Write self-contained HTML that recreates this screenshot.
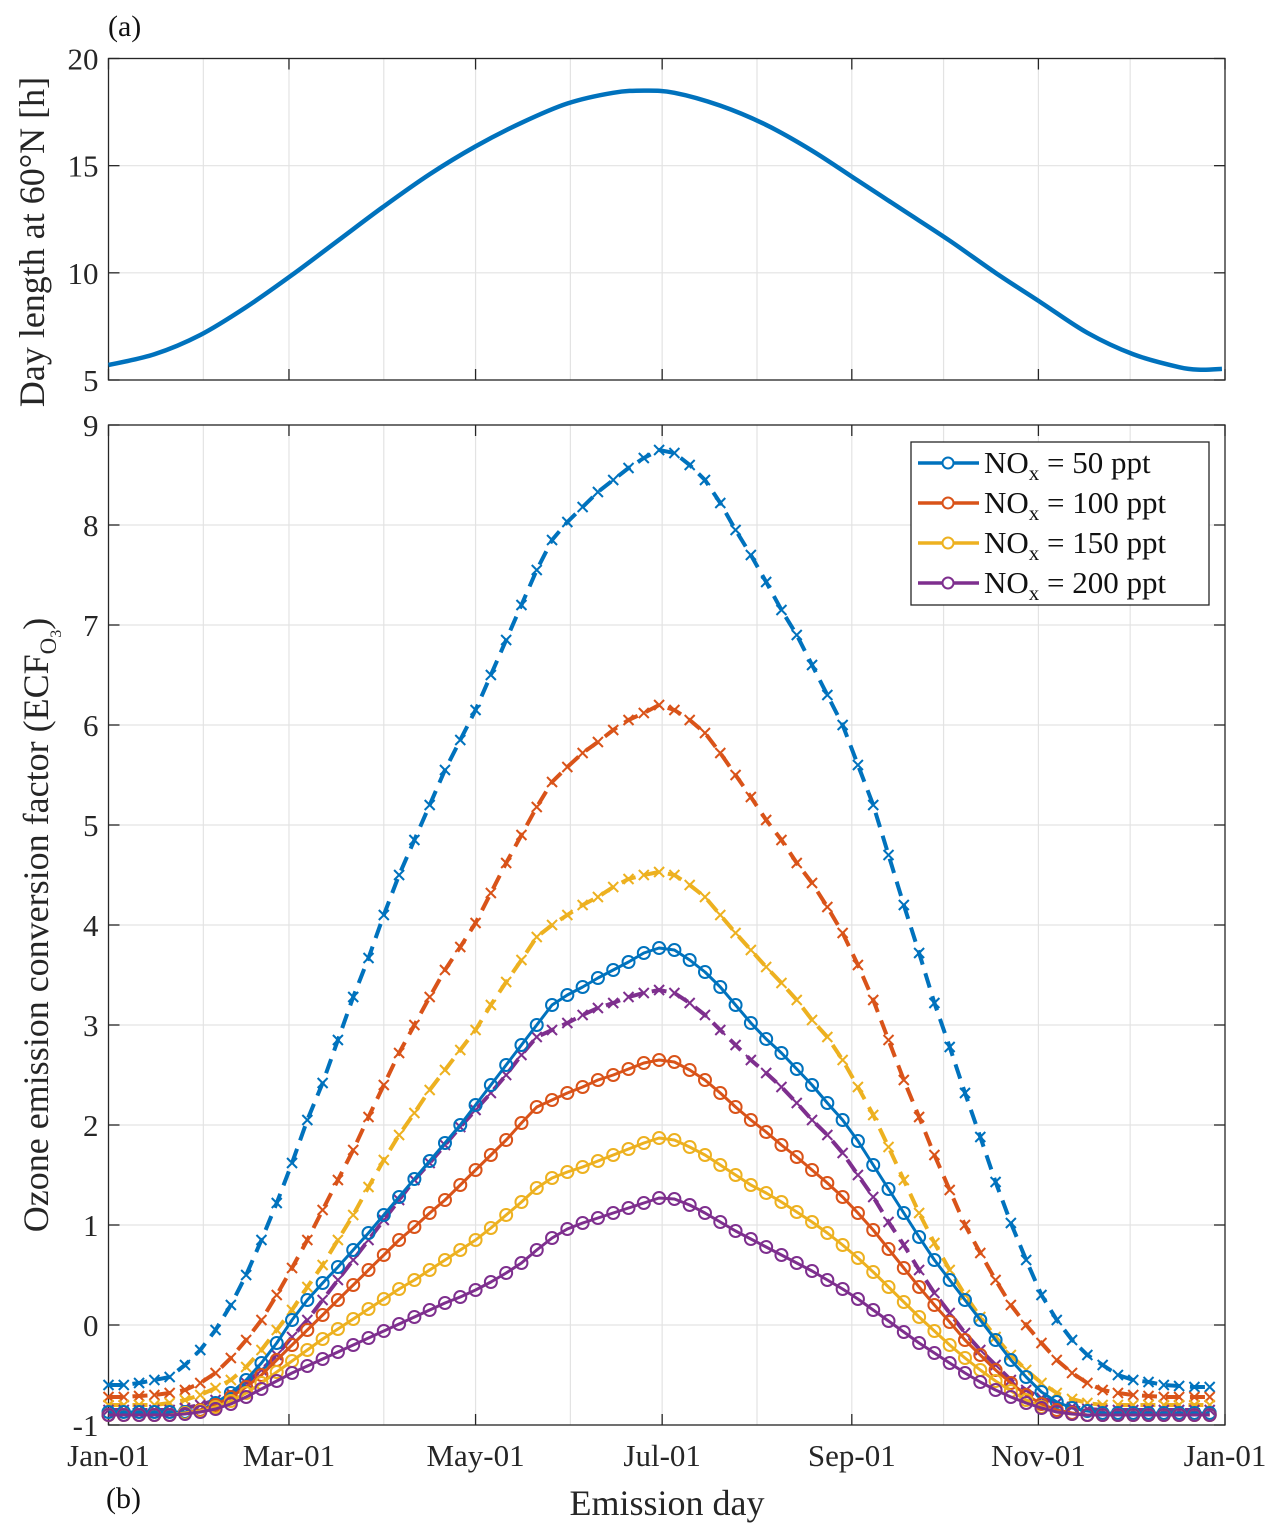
<!DOCTYPE html>
<html><head><meta charset="utf-8">
<style>
html,body{margin:0;padding:0;background:#fff;}
body{position:relative;width:1286px;height:1535px;}
svg{display:block;font-family:"Liberation Serif",serif;}
</style></head>
<body>
<svg id="chart" width="1286" height="1535" viewBox="0 0 1286 1535" xmlns="http://www.w3.org/2000/svg"></svg>
<script>
// ---- data ----
const dayLenDays = [0,15,30,45,60,75,90,105,120,135,150,165,175,185,200,215,230,245,260,275,290,305,320,335,350,357,364];
const dayLenHours = [5.7,6.2,7.1,8.4,9.9,11.5,13.1,14.6,15.9,17.0,17.9,18.4,18.5,18.4,17.8,16.9,15.7,14.3,12.9,11.5,10.0,8.6,7.2,6.2,5.6,5.48,5.52];
const monthTickLabels = ["Jan-01","Mar-01","May-01","Jul-01","Sep-01","Nov-01","Jan-01"];
const monthTickDays = [0,59,120,181,243,304,365];
const monthGridDays = [31,59,90,120,151,181,212,243,273,304,334];
const topYTicks = [5,10,15,20];
const botYTicks = [-1,0,1,2,3,4,5,6,7,8,9];
const ecfStepDays = 5;
const ecf50dash = [-0.6,-0.6,-0.58,-0.55,-0.52,-0.4,-0.25,-0.05,0.2,0.5,0.85,1.22,1.62,2.05,2.42,2.85,3.28,3.67,4.1,4.5,4.85,5.2,5.55,5.85,6.15,6.5,6.85,7.2,7.55,7.85,8.03,8.18,8.33,8.45,8.57,8.67,8.75,8.72,8.6,8.45,8.22,7.95,7.7,7.43,7.15,6.9,6.6,6.3,6.0,5.6,5.2,4.7,4.2,3.72,3.22,2.78,2.32,1.88,1.43,1.02,0.65,0.3,0.05,-0.15,-0.3,-0.4,-0.5,-0.55,-0.57,-0.6,-0.61,-0.62,-0.62];
const ecf100dash = [-0.72,-0.72,-0.71,-0.7,-0.68,-0.65,-0.58,-0.48,-0.33,-0.15,0.05,0.3,0.57,0.85,1.15,1.45,1.75,2.08,2.4,2.72,3.0,3.28,3.55,3.78,4.02,4.32,4.62,4.9,5.18,5.43,5.58,5.72,5.83,5.95,6.05,6.12,6.2,6.15,6.05,5.92,5.72,5.5,5.28,5.05,4.85,4.62,4.42,4.18,3.92,3.6,3.25,2.85,2.45,2.08,1.7,1.35,1.0,0.72,0.45,0.2,0.0,-0.18,-0.35,-0.48,-0.58,-0.65,-0.68,-0.7,-0.71,-0.72,-0.72,-0.72,-0.72];
const ecf150dash = [-0.8,-0.8,-0.8,-0.8,-0.78,-0.75,-0.7,-0.63,-0.55,-0.42,-0.25,-0.05,0.15,0.38,0.6,0.85,1.1,1.38,1.65,1.9,2.12,2.35,2.55,2.75,2.95,3.2,3.43,3.65,3.88,4.0,4.1,4.2,4.28,4.38,4.46,4.5,4.53,4.5,4.4,4.28,4.1,3.92,3.75,3.58,3.42,3.25,3.05,2.88,2.65,2.38,2.1,1.78,1.45,1.12,0.82,0.55,0.3,0.08,-0.12,-0.3,-0.45,-0.58,-0.68,-0.74,-0.78,-0.8,-0.8,-0.8,-0.8,-0.8,-0.8,-0.8,-0.8];
const ecf200dash = [-0.85,-0.85,-0.85,-0.85,-0.85,-0.83,-0.8,-0.75,-0.68,-0.58,-0.45,-0.3,-0.12,0.05,0.25,0.45,0.65,0.85,1.05,1.25,1.45,1.62,1.8,1.98,2.15,2.32,2.5,2.7,2.88,2.95,3.02,3.1,3.17,3.22,3.28,3.32,3.35,3.32,3.22,3.1,2.95,2.8,2.65,2.52,2.38,2.22,2.05,1.9,1.72,1.5,1.28,1.03,0.8,0.55,0.32,0.12,-0.08,-0.25,-0.4,-0.55,-0.65,-0.73,-0.78,-0.82,-0.84,-0.85,-0.85,-0.85,-0.85,-0.85,-0.85,-0.85,-0.85];
const ecf50 = [-0.87,-0.87,-0.87,-0.87,-0.87,-0.87,-0.85,-0.78,-0.68,-0.55,-0.38,-0.18,0.05,0.25,0.42,0.58,0.75,0.92,1.1,1.28,1.46,1.64,1.82,2.0,2.2,2.4,2.6,2.8,3.0,3.2,3.3,3.38,3.47,3.55,3.63,3.72,3.77,3.75,3.65,3.53,3.38,3.2,3.02,2.86,2.72,2.56,2.4,2.22,2.05,1.84,1.6,1.36,1.12,0.88,0.65,0.45,0.25,0.05,-0.15,-0.35,-0.52,-0.67,-0.77,-0.83,-0.86,-0.88,-0.88,-0.88,-0.88,-0.88,-0.88,-0.88,-0.88];
const ecf100 = [-0.9,-0.9,-0.9,-0.9,-0.9,-0.88,-0.85,-0.8,-0.72,-0.62,-0.5,-0.35,-0.2,-0.05,0.1,0.25,0.4,0.55,0.7,0.85,0.98,1.12,1.25,1.4,1.55,1.7,1.85,2.02,2.18,2.25,2.32,2.38,2.45,2.5,2.56,2.62,2.65,2.63,2.55,2.45,2.32,2.18,2.05,1.93,1.8,1.68,1.55,1.42,1.28,1.12,0.95,0.76,0.57,0.38,0.2,0.03,-0.15,-0.3,-0.45,-0.58,-0.7,-0.79,-0.85,-0.88,-0.9,-0.9,-0.9,-0.9,-0.9,-0.9,-0.9,-0.9,-0.9];
const ecf150 = [-0.9,-0.9,-0.9,-0.9,-0.9,-0.88,-0.86,-0.82,-0.76,-0.68,-0.58,-0.47,-0.36,-0.25,-0.14,-0.04,0.06,0.16,0.26,0.36,0.45,0.55,0.65,0.75,0.85,0.97,1.1,1.23,1.37,1.47,1.53,1.58,1.64,1.7,1.76,1.82,1.87,1.85,1.78,1.7,1.6,1.5,1.4,1.32,1.23,1.13,1.03,0.92,0.8,0.67,0.53,0.38,0.23,0.08,-0.06,-0.2,-0.33,-0.45,-0.56,-0.66,-0.75,-0.82,-0.87,-0.89,-0.9,-0.9,-0.9,-0.9,-0.9,-0.9,-0.9,-0.9,-0.9];
const ecf200 = [-0.9,-0.9,-0.9,-0.9,-0.9,-0.89,-0.87,-0.84,-0.79,-0.72,-0.64,-0.56,-0.48,-0.41,-0.34,-0.27,-0.2,-0.13,-0.06,0.01,0.08,0.15,0.22,0.28,0.35,0.43,0.52,0.62,0.75,0.87,0.96,1.02,1.07,1.12,1.17,1.22,1.27,1.26,1.2,1.12,1.03,0.94,0.86,0.78,0.7,0.62,0.54,0.45,0.36,0.26,0.15,0.04,-0.07,-0.18,-0.28,-0.38,-0.48,-0.57,-0.65,-0.72,-0.78,-0.83,-0.87,-0.89,-0.9,-0.9,-0.9,-0.9,-0.9,-0.9,-0.9,-0.9,-0.9];
const legendLabels = ["50","100","150","200"];

// ---- layout ----
const NS="http://www.w3.org/2000/svg";
const svg=document.getElementById('chart');
const X0=108.5,X1=1225,T0=58.5,T1=380,B0=425,B1=1425;
const xS=d=>X0+d/365*(X1-X0);
const yT=v=>T1-(v-5)/15*(T1-T0);
const yB=v=>B1-(v+1)/10*(B1-B0);
const C=["#0072BD","#D95319","#EDB120","#7E2F8E"];
function el(tag,attrs,parent){const e=document.createElementNS(NS,tag);for(const k in attrs)e.setAttribute(k,attrs[k]);(parent||svg).appendChild(e);return e;}

function axes(yTop,yBot,ticks,yf,name){
  const g=el('g',{});
  
  
  monthGridDays.forEach(d=>el('line',{x1:xS(d),x2:xS(d),y1:yTop,y2:yBot,stroke:'#e3e3e3','stroke-width':1.2},g));
  ticks.forEach(v=>el('line',{x1:X0,x2:X1,y1:yf(v),y2:yf(v),stroke:'#e3e3e3','stroke-width':1.2},g));
  el('rect',{x:X0,y:yTop,width:X1-X0,height:yBot-yTop,fill:'none',stroke:'#262626','stroke-width':1.3},g);
  monthTickDays.forEach(d=>{el('line',{x1:xS(d),x2:xS(d),y1:yBot,y2:yBot-11,stroke:'#262626','stroke-width':1.3},g);el('line',{x1:xS(d),x2:xS(d),y1:yTop,y2:yTop+11,stroke:'#262626','stroke-width':1.3},g);});
  ticks.forEach(v=>{el('line',{x1:X0,x2:X0+11,y1:yf(v),y2:yf(v),stroke:'#262626','stroke-width':1.3},g);el('line',{x1:X1,x2:X1-11,y1:yf(v),y2:yf(v),stroke:'#262626','stroke-width':1.3},g);
    const t=el('text',{x:X0-10,y:yf(v)+11,'text-anchor':'end','font-size':31,fill:'#262626'},g);t.textContent=String(v);
    
    });
  return g;
}
axes(T0,T1,topYTicks,yT,'top-axes');
axes(B0,B1,botYTicks,yB,'bottom-axes');
monthTickDays.forEach((d,i)=>{const t=el('text',{x:xS(d),y:1466,'text-anchor':'middle','font-size':31,fill:'#262626'});t.textContent=monthTickLabels[i];
  
  });

// top line
const topPts=dayLenDays.map((d,i)=>[xS(d),yT(dayLenHours[i])]);
let dtop='M'+topPts[0].join(',');
for(let i=1;i<topPts.length;i++){const p0=topPts[Math.max(i-2,0)],p1=topPts[i-1],p2=topPts[i],p3=topPts[Math.min(i+1,topPts.length-1)];
  dtop+=` C${p1[0]+(p2[0]-p0[0])/6},${p1[1]+(p2[1]-p0[1])/6} ${p2[0]-(p3[0]-p1[0])/6},${p2[1]-(p3[1]-p1[1])/6} ${p2[0]},${p2[1]}`;}
const tl=el('path',{d:dtop,fill:'none',stroke:C[0],'stroke-width':4.5});



// bottom series
function series(vals,color,dashed,name){
  const g=el('g',{});
  
  
  const pts=vals.map((v,i)=>[xS(i*ecfStepDays),yB(v)]);
  el('polyline',{points:pts.map(p=>p.join(',')).join(' '),fill:'none',stroke:color,'stroke-width':dashed?4:3,'stroke-dasharray':dashed?'15,9':'none','stroke-linejoin':'round'},g);
  pts.forEach(p=>{
    if(dashed){el('path',{d:`M${p[0]-5},${p[1]-5}L${p[0]+5},${p[1]+5}M${p[0]-5},${p[1]+5}L${p[0]+5},${p[1]-5}`,stroke:color,'stroke-width':2,fill:'none'},g);}
    else{el('circle',{cx:p[0],cy:p[1],r:6,fill:'none',stroke:color,'stroke-width':2},g);}
  });
}
series(ecf50dash,C[0],true,'series-50ppt-dashed');
series(ecf100dash,C[1],true,'series-100ppt-dashed');
series(ecf150dash,C[2],true,'series-150ppt-dashed');
series(ecf200dash,C[3],true,'series-200ppt-dashed');
series(ecf50,C[0],false,'series-50ppt');
series(ecf100,C[1],false,'series-100ppt');
series(ecf150,C[2],false,'series-150ppt');
series(ecf200,C[3],false,'series-200ppt');

// legend
const lg=el('g',{});


el('rect',{x:911,y:442,width:298,height:163,fill:'#fff',stroke:'#262626','stroke-width':1.3},lg);
legendLabels.forEach((lab,i)=>{
  const y=463+i*40;
  const e=el('g',{},lg);
  
  
  el('line',{x1:918,x2:979,y1:y,y2:y,stroke:C[i],'stroke-width':3.5},e);
  el('circle',{cx:948,cy:y,r:5.5,fill:'#fff',stroke:C[i],'stroke-width':2},e);
  const t=el('text',{x:984,y:y+10,'font-size':31,fill:'#111'},e);
  t.innerHTML=`NO<tspan font-size="21" dy="7">x</tspan><tspan dy="-7"> = ${lab} ppt</tspan>`;
});
</script>
<svg style="position:absolute;left:0;top:0" width="1286" height="1535">
<text x="108" y="36" font-size="30" fill="#111" font-family="Liberation Serif, serif">(a)</text>
<text x="106" y="1508" font-size="30" fill="#111" font-family="Liberation Serif, serif">(b)</text>
<text x="667" y="1515" text-anchor="middle" font-size="36" fill="#262626" font-family="Liberation Serif, serif">Emission day</text>
<text transform="translate(44,242) rotate(-90)" text-anchor="middle" font-size="36" fill="#262626" font-family="Liberation Serif, serif">Day length at 60°N [h]</text>
<text transform="translate(48,925) rotate(-90)" text-anchor="middle" font-size="36" fill="#262626" font-family="Liberation Serif, serif">Ozone emission conversion factor (ECF<tspan font-size="23" dy="8">O</tspan><tspan font-size="16" dy="5">3</tspan><tspan dy="-13">)</tspan></text>
</svg>
</body></html>
